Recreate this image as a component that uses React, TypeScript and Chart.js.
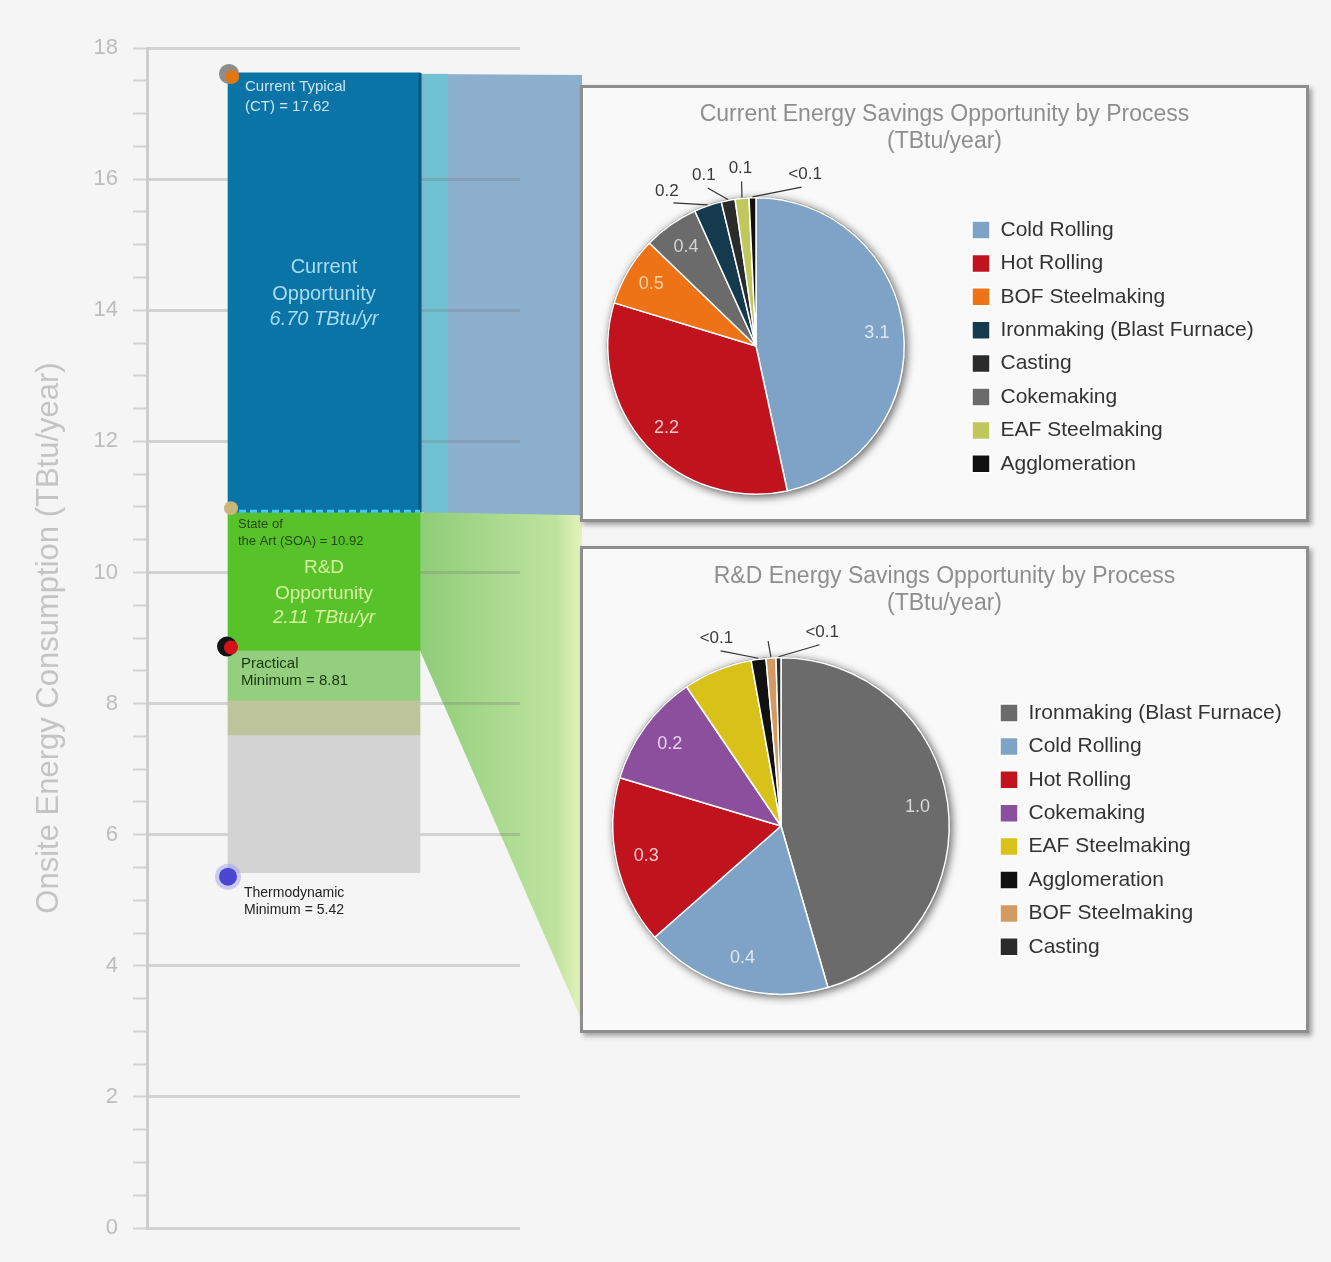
import React, { useEffect, useRef } from 'react';
import { Chart, registerables } from 'chart.js';

Chart.register(...registerables);

const FONT = '"Liberation Sans", Arial, Helvetica, sans-serif';

// ---------------- data: bandwidth column ----------------
const barCategories = ['Iron and Steel'];
const currentTypical = 17.62;
const stateOfTheArt = 10.92;
const practicalMinimum = 8.81;
const lightGreenBandLow = 8.05;
const khakiBandLow = 7.52;
const thermodynamicMinimum = 5.42;

const segmentNames = ['Current Opportunity', 'R&D Opportunity', 'Practical band', 'Transition band', 'Impractical band'];
const segmentLows = [stateOfTheArt, practicalMinimum, lightGreenBandLow, khakiBandLow, thermodynamicMinimum];
const segmentHighs = [currentTypical, stateOfTheArt, practicalMinimum, lightGreenBandLow, khakiBandLow];
const segmentColors = ['#0b74a7', '#58c22b', '#94cf7f', '#bec49b', '#d3d3d3'];

const yMin = 0;
const yMax = 18;
const yMinorStep = 0.5;
const yMajorStep = 2;
const yAxisTitle = 'Onsite Energy Consumption (TBtu/year)';

// ---------------- data: current opportunity pie ----------------
const currentTitle = ['Current Energy Savings Opportunity by Process', '(TBtu/year)'];
const currentLabels = ['Cold Rolling', 'Hot Rolling', 'BOF Steelmaking', 'Cokemaking', 'Ironmaking (Blast Furnace)', 'Casting', 'EAF Steelmaking', 'Agglomeration'];
const currentValues = [3.1, 2.2, 0.5, 0.4, 0.2, 0.1, 0.1, 0.05];
const currentColors = ['#7fa3c7', '#c1131e', '#ee7316', '#6b6b6b', '#15394d', '#2b2b2b', '#bfc85a', '#111111'];
const currentLegendOrder = ['Cold Rolling', 'Hot Rolling', 'BOF Steelmaking', 'Ironmaking (Blast Furnace)', 'Casting', 'Cokemaking', 'EAF Steelmaking', 'Agglomeration'];

// ---------------- data: R&D opportunity pie ----------------
const rdTitle = ['R&D Energy Savings Opportunity by Process', '(TBtu/year)'];
const rdLabels = ['Ironmaking (Blast Furnace)', 'Cold Rolling', 'Hot Rolling', 'Cokemaking', 'EAF Steelmaking', 'Agglomeration', 'BOF Steelmaking', 'Casting'];
const rdValues = [0.96, 0.38, 0.34, 0.23, 0.14, 0.03, 0.02, 0.01];
const rdColors = ['#6b6b6b', '#7fa3c7', '#c1131e', '#8c4f9e', '#d8c21a', '#111111', '#d49a62', '#2b2b2b'];

// ---------------- layout / style ----------------
const PAGE_W = 1331;
const PAGE_H = 1262;
const BG = '#f5f5f5';
const BOX_BORDER = 3;
const BOX1 = { x: 580, y: 85, w: 729, h: 437 };
const BOX2 = { x: 580, y: 546, w: 729, h: 487 };
const GRID_COLOR = 'rgba(120,120,120,0.28)';
const GRID_RIGHT = 520;
const LEGEND_FONT = 21;
const LEGEND_ROW = 33.4;
const TITLE_FONT = 23;
const TITLE_LH = 1.16;

const PLACE1 = { cx: 173, cy: 258, r: 149, lx: 389, ly: 142, titleTop: 13.6 };
const PLACE2 = { cx: 198, cy: 277, r: 169, lx: 417, ly: 164, titleTop: 14.6 };

const INNER1 = ['#dde7f1', '#f7cbd0', '#fbd2ad', '#d4d4d4'];
const INNER2 = ['#d8d8d8', '#dde7f1', '#f7cbd0', '#ead2f0'];
const OUTSIDE1: any = { 4: { deg: 330, text: true }, 5: { deg: 343, text: true }, 6: { deg: 355, text: true }, 7: { deg: 16, text: true } };
const OUTSIDE2: any = { 5: { deg: 341, text: true }, 6: { deg: 356, text: false }, 7: { deg: 12, text: true } };

const fmt = (v: number) => (v < 0.1 ? '<0.1' : v.toFixed(1));

function drawText(ctx: any, s: string, x: number, y: number, size: number, color: string, align = 'left', style = '') {
  ctx.save();
  ctx.font = `${style} ${size}px ${FONT}`;
  ctx.fillStyle = color;
  ctx.textAlign = align;
  ctx.textBaseline = 'middle';
  ctx.fillText(s, x, y);
  ctx.restore();
}

const alignPx = (pixel: number, width: number) => Math.round(pixel - width / 2) + width / 2;

const bandwidthDecor = {
  id: 'bandwidthDecor',
  beforeDraw(chart: any) {
    const meta = chart.getDatasetMeta(0);
    const bar = meta && meta.data[0];
    if (!bar) return;
    const ctx = chart.ctx;
    const Y = (v: number) => chart.scales.y.getPixelForValue(v);
    const p = bar.getProps(['x', 'width'], true);
    const R = p.x + p.width / 2;
    ctx.save();
    ctx.fillStyle = '#8cafcd';
    ctx.beginPath();
    ctx.moveTo(R, Y(currentTypical) + 1);
    ctx.lineTo(BOX1.x + 2, Y(currentTypical) + 2);
    ctx.lineTo(BOX1.x + 2, Y(stateOfTheArt) + 6);
    ctx.lineTo(R, Y(stateOfTheArt));
    ctx.closePath();
    ctx.fill();
    ctx.fillStyle = '#70c2d2';
    ctx.fillRect(R + 4, Y(currentTypical) + 1, 24, Y(stateOfTheArt) - Y(currentTypical));
    const g = ctx.createLinearGradient(R, 0, BOX2.x, 0);
    g.addColorStop(0, '#8fcd78');
    g.addColorStop(0.55, '#aedb92');
    g.addColorStop(0.85, '#bfe39f');
    g.addColorStop(1, '#e3f2ba');
    ctx.fillStyle = g;
    ctx.beginPath();
    ctx.moveTo(R, Y(stateOfTheArt));
    ctx.lineTo(BOX2.x + 2, Y(stateOfTheArt) + 3);
    ctx.lineTo(BOX2.x + 2, BOX2.y + BOX2.h - 12);
    ctx.lineTo(R, Y(practicalMinimum));
    ctx.closePath();
    ctx.fill();
    ctx.restore();
  },
  beforeDatasetsDraw(chart: any) {
    const ctx = chart.ctx;
    const ys = chart.scales.y;
    ctx.save();
    ctx.strokeStyle = GRID_COLOR;
    ctx.lineWidth = 3;
    for (let v = yMin; v <= yMax; v += yMajorStep) {
      const y = alignPx(ys.getPixelForValue(v), 3);
      ctx.beginPath();
      ctx.moveTo(chart.chartArea.right, y);
      ctx.lineTo(GRID_RIGHT, y);
      ctx.stroke();
    }
    ctx.restore();
  },
  afterDatasetsDraw(chart: any) {
    const meta = chart.getDatasetMeta(0);
    const bar = meta && meta.data[0];
    if (!bar) return;
    const ctx = chart.ctx;
    const Y = (v: number) => chart.scales.y.getPixelForValue(v);
    const p = bar.getProps(['x', 'width'], true);
    const L = p.x - p.width / 2;
    const R = p.x + p.width / 2;
    const C = p.x;

    ctx.save();
    ctx.strokeStyle = '#07587e';
    ctx.lineWidth = 3;
    ctx.beginPath();
    ctx.moveTo(R, Y(currentTypical));
    ctx.lineTo(R, Y(stateOfTheArt));
    ctx.stroke();
    ctx.setLineDash([7, 4]);
    ctx.strokeStyle = '#45cbef';
    ctx.lineWidth = 3;
    ctx.beginPath();
    ctx.moveTo(L, Y(stateOfTheArt) - 1);
    ctx.lineTo(R, Y(stateOfTheArt) - 1);
    ctx.stroke();
    ctx.restore();

    const ct = Y(currentTypical);
    drawText(ctx, 'Current Typical', L + 17, ct + 14, 15, '#cfe3f2');
    drawText(ctx, `(CT) = ${currentTypical.toFixed(2)}`, L + 17, ct + 34, 15, '#cfe3f2');
    const midBlue = (Y(currentTypical) + Y(stateOfTheArt)) / 2;
    drawText(ctx, 'Current', C, midBlue - 25, 20, '#a9dcf3', 'center');
    drawText(ctx, 'Opportunity', C, midBlue + 2, 20, '#a9dcf3', 'center');
    drawText(ctx, `${(currentTypical - stateOfTheArt).toFixed(2)} TBtu/yr`, C, midBlue + 27, 20, '#a9dcf3', 'center', 'italic');

    const soa = Y(stateOfTheArt);
    drawText(ctx, 'State of', L + 10, soa + 12, 13, '#24480f');
    drawText(ctx, `the Art (SOA) = ${stateOfTheArt.toFixed(2)}`, L + 10, soa + 29, 13, '#24480f');
    drawText(ctx, 'R&D', C, soa + 56, 19, '#d8f0a0', 'center');
    drawText(ctx, 'Opportunity', C, soa + 82, 19, '#d8f0a0', 'center');
    drawText(ctx, `${(stateOfTheArt - practicalMinimum).toFixed(2)} TBtu/yr`, C, soa + 106, 19, '#d8f0a0', 'center', 'italic');

    const pm = Y(practicalMinimum);
    drawText(ctx, 'Practical', L + 13, pm + 13, 15, '#1b3510');
    drawText(ctx, `Minimum = ${practicalMinimum.toFixed(2)}`, L + 13, pm + 30, 15, '#1b3510');

    const tm = Y(thermodynamicMinimum);
    drawText(ctx, 'Thermodynamic', L + 16, tm + 20, 14, '#222222');
    drawText(ctx, `Minimum = ${thermodynamicMinimum.toFixed(2)}`, L + 16, tm + 37, 14, '#222222');

    const dot = (x: number, y: number, r: number, color: string) => {
      ctx.beginPath();
      ctx.arc(x, y, r, 0, Math.PI * 2);
      ctx.fillStyle = color;
      ctx.fill();
    };
    ctx.save();
    dot(L + 1, ct + 1, 10, '#8d8d8d');
    dot(L + 4, ct + 4, 7, '#e3760f');
    dot(L + 3, soa - 4, 7, '#c9b77a');
    dot(L - 1, pm - 4, 10, '#141414');
    dot(L + 3, pm - 3, 7, '#d8101a');
    ctx.globalAlpha = 0.45;
    dot(L, tm + 4, 13, '#9a96f2');
    ctx.globalAlpha = 1;
    dot(L, tm + 4, 9, '#4b45d0');
    ctx.restore();
  },
};

function BandwidthChart() {
  const ref = useRef<HTMLCanvasElement | null>(null);
  useEffect(() => {
    const chart = new Chart(ref.current as any, {
      type: 'bar',
      data: {
        labels: barCategories,
        datasets: segmentNames.map((name, i) => ({
          label: name,
          data: [[segmentLows[i], segmentHighs[i]]],
          backgroundColor: segmentColors[i],
          borderWidth: 0,
          barThickness: 192,
          grouped: false,
        })) as any,
      },
      options: {
        responsive: false,
        animation: false,
        devicePixelRatio: 1,
        events: [],
        layout: { padding: { left: 0, top: 48, right: PAGE_W - 501, bottom: PAGE_H - 1228 } },
        plugins: { legend: { display: false }, tooltip: { enabled: false }, title: { display: false } },
        scales: {
          x: { type: 'category', display: false, grid: { display: false } },
          y: {
            type: 'linear',
            min: yMin,
            max: yMax,
            afterFit: (scale: any) => { scale.width = 147; },
            ticks: {
              stepSize: yMinorStep,
              autoSkip: false,
              padding: 15,
              color: '#bdbdbd',
              font: { family: FONT, size: 22 },
              callback: (v: any) => (Number(v) % yMajorStep === 0 ? String(v) : ''),
            },
            grid: {
              color: (c: any) => (c.tick && c.tick.value % yMajorStep === 0 ? GRID_COLOR : 'rgba(0,0,0,0)'),
              lineWidth: 3,
              tickColor: '#d3d3d3',
              tickLength: 14,
              tickWidth: 2,
            },
            border: { display: true, color: '#cdcdcd', width: 3 },
            title: {
              display: true,
              text: yAxisTitle,
              color: '#c4c4c4',
              font: { family: FONT, size: 31 },
              padding: { top: 31, bottom: 0 },
            },
          },
        },
      } as any,
      plugins: [bandwidthDecor],
    });
    return () => chart.destroy();
  }, []);
  return (
    <canvas
      ref={ref}
      width={PAGE_W}
      height={PAGE_H}
      style={{ position: 'absolute', left: 0, top: 0, width: PAGE_W, height: PAGE_H }}
    />
  );
}

const placementPlugin = (p: any) => ({
  id: 'placement',
  afterLayout(chart: any) {
    const a = chart.chartArea;
    a.left = p.cx - p.r;
    a.right = p.cx + p.r;
    a.top = p.cy - p.r;
    a.bottom = p.cy + p.r;
    a.width = 2 * p.r;
    a.height = 2 * p.r;
    const lg = chart.legend;
    if (lg) {
      const pad = lg.options.labels.padding;
      lg.left = p.lx - pad;
      lg.right = chart.width;
      lg.width = lg.right - lg.left;
      lg.top = p.ly - LEGEND_FONT / 2 - pad;
      lg.bottom = chart.height;
      lg.height = lg.bottom - lg.top;
    }
  },
});

const pieLabelPlugin = (values: number[], innerColors: string[], outside: any) => ({
  id: 'pieLabels',
  beforeDatasetsDraw(chart: any) {
    const arc = chart.getDatasetMeta(0).data[0];
    if (!arc) return;
    const p = arc.getProps(['x', 'y', 'outerRadius'], true);
    const ctx = chart.ctx;
    ctx.save();
    ctx.shadowColor = 'rgba(0,0,0,0.6)';
    ctx.shadowBlur = 9;
    ctx.shadowOffsetX = 2;
    ctx.shadowOffsetY = 2;
    ctx.beginPath();
    ctx.arc(p.x, p.y, p.outerRadius + 1, 0, Math.PI * 2);
    ctx.fillStyle = '#7a7a7a';
    ctx.fill();
    ctx.restore();
  },
  afterDatasetsDraw(chart: any) {
    const ctx = chart.ctx;
    chart.getDatasetMeta(0).data.forEach((arc: any, i: number) => {
      const p = arc.getProps(['x', 'y', 'startAngle', 'endAngle', 'outerRadius'], true);
      const mid = (p.startAngle + p.endAngle) / 2;
      const r = p.outerRadius;
      const text = fmt(values[i]);
      if (i < innerColors.length) {
        drawText(ctx, text, p.x + Math.cos(mid) * r * 0.82, p.y + Math.sin(mid) * r * 0.82, 18, innerColors[i], 'center');
      } else if (outside[i]) {
        const la = ((outside[i].deg - 90) * Math.PI) / 180;
        ctx.save();
        ctx.strokeStyle = '#333333';
        ctx.lineWidth = 1.2;
        ctx.beginPath();
        ctx.moveTo(p.x + Math.cos(mid) * (r + 1), p.y + Math.sin(mid) * (r + 1));
        ctx.lineTo(p.x + Math.cos(la) * (r + 17), p.y + Math.sin(la) * (r + 17));
        ctx.stroke();
        ctx.restore();
        if (outside[i].text) {
          drawText(ctx, text, p.x + Math.cos(la) * (r + 30), p.y + Math.sin(la) * (r + 30), 17, '#3a3a3a', 'center');
        }
      }
    });
  },
});

function PieBox(props: any) {
  const { box, title, labels, values, colors, legendOrder, place, innerColors, outside } = props;
  const ref = useRef<HTMLCanvasElement | null>(null);
  const iw = box.w - 2 * BOX_BORDER;
  const ih = box.h - 2 * BOX_BORDER;
  useEffect(() => {
    const chart = new Chart(ref.current as any, {
      type: 'pie',
      data: {
        labels,
        datasets: [{ data: values, backgroundColor: colors, borderColor: '#ffffff', borderWidth: 1.5 }],
      },
      options: {
        responsive: false,
        animation: false,
        devicePixelRatio: 1,
        events: [],
        layout: { padding: 0 },
        plugins: {
          tooltip: { enabled: false },
          title: {
            display: true,
            text: title,
            color: '#8e8e8e',
            font: { family: FONT, size: TITLE_FONT, weight: 'normal', lineHeight: TITLE_LH },
            padding: { top: place.titleTop, bottom: 10 },
          },
          legend: {
            display: true,
            position: 'right',
            align: 'start',
            labels: {
              boxWidth: 18,
              boxHeight: 18,
              padding: LEGEND_ROW - LEGEND_FONT,
              color: '#333333',
              font: { family: FONT, size: LEGEND_FONT },
              sort: legendOrder
                ? (a: any, b: any) => legendOrder.indexOf(a.text) - legendOrder.indexOf(b.text)
                : undefined,
            },
          },
        },
      } as any,
      plugins: [placementPlugin(place), pieLabelPlugin(values, innerColors, outside)],
    });
    return () => chart.destroy();
  }, []);
  return (
    <div
      style={{
        position: 'absolute',
        left: box.x,
        top: box.y,
        width: box.w,
        height: box.h,
        boxSizing: 'border-box',
        border: `${BOX_BORDER}px solid #8e8e8e`,
        background: '#f9f9f9',
        boxShadow: '3px 3px 5px rgba(0,0,0,0.35)',
      }}
    >
      <canvas ref={ref} width={iw} height={ih} style={{ position: 'absolute', left: 0, top: 0, width: iw, height: ih }} />
    </div>
  );
}

export default function App() {
  return (
    <div style={{ position: 'absolute', left: 0, top: 0, width: PAGE_W, height: PAGE_H, background: BG, overflow: 'hidden' }}>
      <BandwidthChart />
      <PieBox
        box={BOX1}
        title={currentTitle}
        labels={currentLabels}
        values={currentValues}
        colors={currentColors}
        legendOrder={currentLegendOrder}
        place={PLACE1}
        innerColors={INNER1}
        outside={OUTSIDE1}
      />
      <PieBox
        box={BOX2}
        title={rdTitle}
        labels={rdLabels}
        values={rdValues}
        colors={rdColors}
        place={PLACE2}
        innerColors={INNER2}
        outside={OUTSIDE2}
      />
    </div>
  );
}
